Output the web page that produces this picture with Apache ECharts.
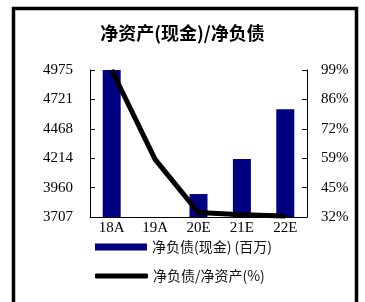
<!DOCTYPE html>
<html>
<head>
    <meta charset="UTF-8">
    <style>
        html, body { margin: 0; padding: 0; background: #fff; }
        #main { width: 365px; height: 302px; }
    </style>
</head>
<body>
<div id="main"></div>
<script src="https://cdn.jsdelivr.net/npm/echarts@6/dist/echarts.min.js"></script>
<script>
    // data
    var categories = ['18A', '19A', '20E', '21E', '22E'];
    var netDebt = [4975, 3600, 3905, 4207, 4636];      // 净负债(现金)(百万)
    var debtRatio = [99, 58.3, 34, 33, 32.5];           // 净负债/净资产(%)
    var leftTicks = ['3707', '3960', '4214', '4468', '4721', '4975'];
    var rightTicks = ['32%', '45%', '59%', '72%', '86%', '99%'];

    var leftMin = 3707, leftMax = 4975, leftStep = (leftMax - leftMin) / 5;
    var rightMin = 32, rightMax = 99, rightStep = (rightMax - rightMin) / 5;

    var labelFont = {fontFamily: 'Liberation Serif', fontSize: 15, color: '#000'};
    var legendFont = {fontFamily: 'Noto Sans CJK SC', fontSize: 14, color: '#111'};

    var myChart = echarts.init(document.getElementById('main'));
    var option = {
        animation: false,
        title: {
            text: '净资产(现金)/净负债',
            left: 'center',
            top: 24,
            padding: 0,
            textStyle: {fontFamily: 'Noto Sans CJK SC', fontSize: 18, fontWeight: 'bold', color: '#000'}
        },
        graphic: [{
            type: 'rect',
            shape: {x: 13.5, y: 8.5, width: 343, height: 320},
            style: {fill: 'none', stroke: '#000', lineWidth: 3.5}
        }],
        legend: [{
            left: 95,
            top: 240,
            padding: 0,
            itemWidth: 52,
            itemHeight: 7,
            itemGap: 5,
            icon: 'rect',
            data: ['净负债(现金) (百万)'],
            textStyle: legendFont
        }, {
            left: 95,
            top: 269,
            padding: 0,
            itemWidth: 53,
            itemHeight: 5,
            icon: 'roundRect',
            data: ['净负债/净资产(%)'],
            textStyle: legendFont
        }],
        grid: {left: 90, right: 58, top: 70, bottom: 85},
        xAxis: {
            type: 'category',
            data: categories,
            axisLine: {lineStyle: {color: '#000', width: 1}},
            axisTick: {inside: true, length: 4, lineStyle: {color: '#000'}},
            axisLabel: Object.assign({margin: 4}, labelFont)
        },
        yAxis: [{
            type: 'value',
            min: leftMin,
            max: leftMax,
            interval: leftStep,
            splitLine: {show: false},
            axisLine: {show: true, lineStyle: {color: '#000', width: 1}},
            axisTick: {show: true, inside: true, length: 5, lineStyle: {color: '#000'}},
            axisLabel: Object.assign({
                margin: 17,
                formatter: function (v) {
                    return leftTicks[Math.round((v - leftMin) / leftStep)];
                }
            }, labelFont)
        }, {
            type: 'value',
            min: rightMin,
            max: rightMax,
            interval: rightStep,
            splitLine: {show: false},
            axisLine: {show: true, lineStyle: {color: '#000', width: 1}},
            axisTick: {show: true, inside: true, length: 5, lineStyle: {color: '#000'}},
            axisLabel: Object.assign({
                margin: 14,
                formatter: function (v) {
                    return rightTicks[Math.round((v - rightMin) / rightStep)];
                }
            }, labelFont)
        }],
        series: [{
            name: '净负债(现金) (百万)',
            type: 'bar',
            data: netDebt,
            barWidth: 18,
            itemStyle: {color: '#000080'}
        }, {
            name: '净负债/净资产(%)',
            type: 'line',
            yAxisIndex: 1,
            data: debtRatio,
            symbol: 'none',
            clip: false,
            itemStyle: {color: '#000'},
            lineStyle: {color: '#000', width: 5}
        }]
    };
    myChart.setOption(option);
</script>
</body>
</html>
